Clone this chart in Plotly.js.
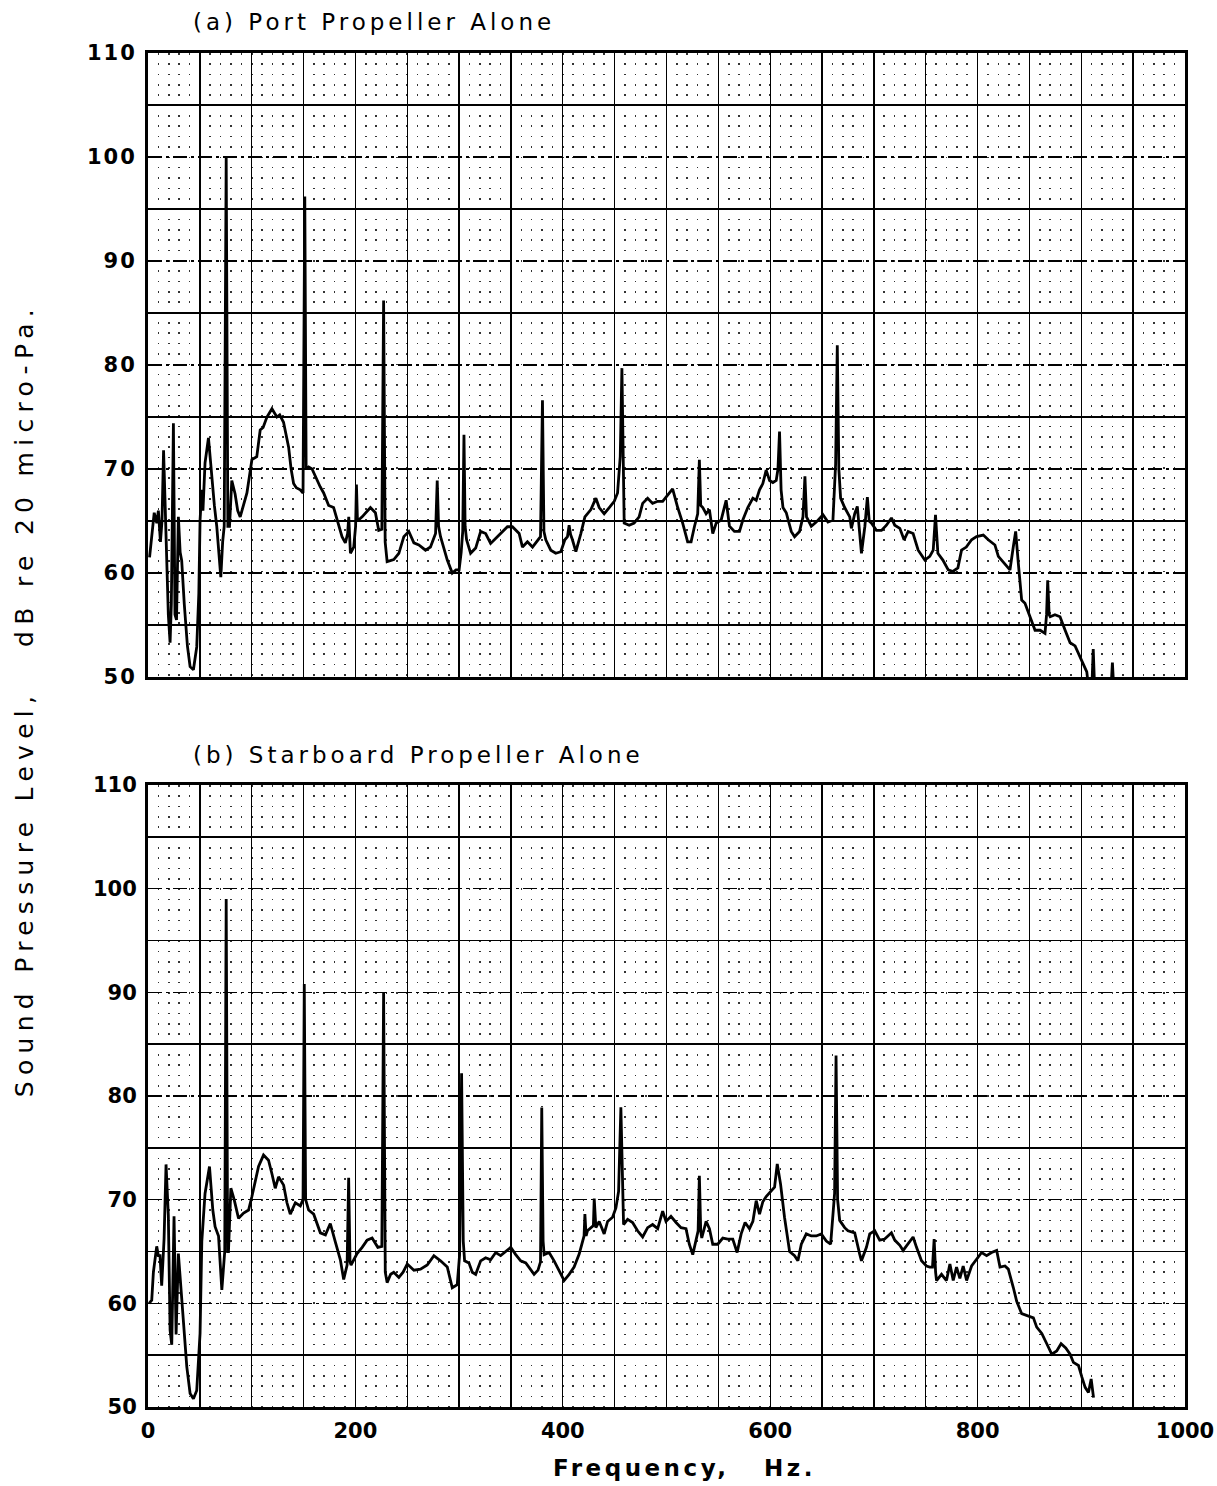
<!DOCTYPE html>
<html>
<head>
<meta charset="utf-8">
<script src="https://cdn.plot.ly/plotly-3.0.1.min.js"></script>
<style>
html, body { margin: 0; padding: 0; background: #ffffff; }
#chart { width: 1217px; height: 1486px; }
g.annotation[data-index="0"] text, g.annotation[data-index="1"] text { letter-spacing: 4px; }
g.annotation[data-index="2"] text { letter-spacing: 6.3px; }
g.annotation[data-index="3"] text { letter-spacing: 3.5px; }
g.xtick text, g.ytick text { letter-spacing: 2px; }
</style>
</head>
<body>
<div id="chart"></div>
<script>
// ---- Panel (a): Port Propeller Alone ----
const freqA = [1.5,3.5,6,8.5,10,12,13.5,15,16.5,18,19.6,21.3,22.5,24.5,26,27.5,29.3,31,32.5,35,38,40.6,43.8,47,49,
  50.2,51.9,53,55,58.3,61.5,64,66.3,68,70.2,72,73.5,75.4,77,78.6,80.8,84,86.5,88.9,92,95.4,100.2,104.9,108.2,111,
  114.7,119.5,124.3,127,130.7,133,135.6,138,140.4,143,146.8,149.5,151.2,152.5,154.9,158.2,163,166,169.4,174.2,179,
  182.3,185,187.1,190.3,192.5,193.6,194.5,195.2,198.4,200.2,201,202,206.5,211.3,214.5,219.3,222.5,225.5,227.2,228.7,
  230.6,237,241.9,246.7,251.5,256.4,261.2,267.6,272.4,277.3,278.9,280.2,282.1,288.6,293.4,297,300,302,303.5,304.7,
  305.8,307.2,311.1,316,320.8,325.6,330.4,336.9,341.7,346.6,351.4,357.9,361.1,365.9,370.8,375.6,378.5,380.4,381.8,
  383.6,388.4,393.2,398.1,402,404.5,406.1,407.5,409.3,412.6,417.4,421.3,427.1,431.9,435.1,439.9,444.8,449.6,452.8,
  455.4,457,458,459.2,464,468.8,473.6,477,481.8,486.6,491.5,496.3,501.1,505.9,510.8,515.6,520.4,523.7,526.9,530.1,
  531.7,533,535,538.2,541.4,544.6,547.9,552.7,557.5,560.7,565.5,570.4,573.6,578.4,583.3,586.5,589.7,592.9,596.1,
  599.4,602.6,605.8,607.5,609,610.5,612.3,615.5,617.1,620.3,623.5,628.3,631.6,633.5,635,639.6,644.4,650.9,655.7,
  660.5,663.1,664.7,666.2,667.9,671.8,676.7,678.3,681.5,684,686.3,688,691.3,693.7,695.5,697.7,702.4,707.3,712.1,
  716.9,720.1,725,729.1,733,737.8,742.7,749.1,753.9,757.2,759.4,761.7,766.5,771.7,776.2,781,784.5,789.1,794.2,799,
  805.5,810.3,816.7,820,824.8,831.2,834.4,836.7,839.3,842.5,845.7,850.6,855.4,860.3,865,866.5,867.6,869,870,874.6,
  879.5,884.4,889.2,894,898.9,903,905.3,907,910,911.5,913,928.5,930,931.5];
const splA = [61.5,63.5,65.8,64.8,66,63,65,71.8,66,61,56,53.3,57,74.4,56,55.5,65.4,62,61.2,57,53,51,50.7,52.9,58,
  65.1,68,66,70.6,73,68.9,66.5,64.5,62,59.6,63,64.5,100,64.5,64.5,68.9,67.6,66,65.4,66.5,67.7,70.9,71.2,73.75,74,
  75,75.8,75,75.2,74.5,73.4,72.1,70,68.6,68.2,68,67.7,96.2,70,70.2,70,68.9,68.3,67.7,66.5,66.3,
  65.1,64.3,63.5,62.9,63.8,65.4,63,61.9,62.5,64.5,68.5,65,65.4,65.9,66.3,65.8,64.1,64.2,86.2,63,
  61.1,61.3,61.9,63.5,64,62.9,62.7,62.2,62.5,63.8,68.9,64.5,63.5,61.25,60,60.3,60.3,62,64,73.3,
  64.5,63.2,61.9,62.4,64,63.8,62.85,63.5,64,64.45,64.45,63.8,62.5,63,62.5,63.2,63.5,76.6,64,
  63.2,62.2,61.9,62.05,63.2,63.5,64.6,63.7,63.2,62.05,63.8,65.4,66.1,67.2,66.3,65.7,66.3,66.9,67.7,
  71.2,79.7,70,64.8,64.6,64.8,65.4,66.7,67.2,66.7,66.9,66.9,67.5,68.1,66.3,64.8,63,63,64.45,65.7,
  70.9,66.5,66.3,65.7,66.1,63.8,64.8,65.1,67,64.5,64,64,65.1,66.3,67.2,67,68,68.6,69.9,
  68.9,68.7,68.9,70,73.6,68,66.3,65.8,65.1,64,63.5,64,65.4,69.3,65.4,64.5,64.9,65.6,64.9,
  65.1,70.5,81.9,70,67.2,66.3,65.4,64.3,65.7,66.4,63.8,61.9,64.5,67.3,65,64.8,64.1,64.1,64.6,
  65.3,64.6,64.3,63.2,64,63.8,62.2,61.25,61.6,62.2,65.6,61.9,61.25,60.3,60.15,60.5,62.2,62.5,63.2,63.5,
  63.65,63.2,62.7,61.6,61,60.3,62.5,64,60.9,57.4,57.1,55.8,54.5,54.5,54.2,56,59.3,56,55.8,56,
  55.8,54.5,53.3,53,52,51,50.5,49,48.5,52.7,48.5,48.5,51.4,48.5];

// ---- Panel (b): Starboard Propeller Alone ----
const freqB = [1,3.6,5.2,7,8.4,10,11.6,13.2,15.5,17.4,18.5,19.6,21.3,22.9,25.1,27.1,29.3,32.5,35,37.4,40.6,43.8,47,
  50.2,51.9,55,59.3,62.5,64.7,68,71.2,72.8,74,75.4,76.8,77.6,79.9,83.1,87.3,92.2,97,100.2,103.4,106.6,111.4,116.2,
  119.5,122.7,125.9,130.8,134,137.2,142.1,146.9,149.5,150.7,152,154.9,159.8,166.2,171.1,175.8,180.7,185.5,188.7,192,
  193.5,194.8,195.8,201.6,206.5,211.3,216.1,221.6,225.5,227.2,228.8,230.6,234,237,241.9,246,250,256.4,262.8,269.3,
  275.7,282.1,288.6,293.4,298.2,300.5,302.4,304,305.3,309.5,312.7,316,320.8,325.6,330.4,335.3,340.1,345,349.8,354.6,
  359.4,364.3,367.5,372.3,376.1,378.5,379.7,381,382,386.8,391.6,396.5,401.3,406.1,410.9,415.8,419,420.5,421.3,422.5,
  423.8,427.1,429.5,430.3,431.3,431.9,435.1,439.9,443.2,448,451.2,453.8,456,457.5,458.6,462.5,467.3,472.1,477,481.8,
  486.6,491.5,496.3,499.5,504.3,509.2,514,518.8,522,525.3,528.5,530.5,531.7,533,534,538.2,541.4,544.6,549.4,554.3,
  559.1,563.9,568.1,572,575.8,580,583.3,586.5,589.7,592.9,596.1,601,604.2,606.8,610,613.8,618.7,623.5,626.7,630,
  634.8,639.6,644.4,649.3,654.1,658.3,662.1,663.5,665,667,671.8,675,681.5,686.3,688,692.8,696,700.8,705.6,710.4,
  716.9,720.1,725,728.2,733,737.8,741.1,745.9,750.7,753.9,756.5,758.1,759.5,760.4,765.2,770,773.3,776.5,779.7,782.9,
  786.1,789.4,794.2,799,803.9,808.7,813.5,818.4,821.6,826.4,829.6,834.5,837.7,842.5,849,853.8,857,861.9,866.7,871.5,
  876.3,880.5,885,889.2,892.4,897.3,900.5,903.7,906.9,909.5,911.8];
const splB = [60,60.3,63,64.5,65.5,64.6,64.6,61.7,66.2,73.4,71,68.5,57.4,56,68.4,57,64.8,60.3,57,53.9,51.3,50.8,51.6,
  57.1,66,70.6,73.2,69,67.4,66.5,61.3,64,65,99,65,65,71.1,70,68.2,68.7,69,70.3,71.9,73.2,74.3,73.8,
  72.5,71.1,72.2,71.4,69.7,68.6,69.7,69.4,70,90.8,70,69,68.6,66.8,66.6,67.7,65.9,64.2,62.3,63.7,
  72.1,64,63.7,64.8,65.4,66.1,66.3,65.4,65.5,90,63,62,62.8,63,62.5,63,63.8,63.2,63.3,63.7,
  64.6,64.1,63.5,61.5,61.8,64.7,82.2,66,64.1,63.9,63,62.8,64.1,64.4,64.2,64.9,64.6,65,65.4,64.7,
  64.1,63.9,63.5,62.8,63.2,64,78.9,66,64.7,64.9,64.1,63.2,62.2,62.8,63.5,64.75,66,66.5,68.6,66.5,
  67,67.3,67.5,70.1,67.5,67.3,67.9,66.7,67.9,68.3,69.2,70.8,78.9,70,67.6,68.1,67.8,67,66.4,67.3,
  67.6,67.2,68.9,67.9,68.4,67.8,67.3,67.2,65.7,64.7,66.3,67,72.3,67,66.3,67.9,67.2,65.7,65.7,66.3,
  66.2,66.2,64.9,66.7,67.8,67.2,67.9,69.9,68.6,69.8,70.3,70.9,71.2,73.45,71.5,68.3,65,64.6,64.1,65.7,
  66.7,66.5,66.5,66.7,66,65.7,70.6,83.9,70,68,67.3,67,66.8,64.75,64.1,65.4,66.7,67,66.1,66.2,
  66.8,66.1,65.6,65.1,65.7,66.4,65.4,64.1,63.6,63.5,63.5,66.2,63,62.2,62.8,62.2,63.8,62.2,63.5,62.4,
  63.6,62.2,63.6,64.3,64.9,64.6,64.9,65.1,63.5,63.6,63.3,61.5,60.2,59,58.8,58.6,57.7,57.1,56.1,55.1,
  55.4,56.1,55.7,55.1,54.3,54,52.9,51.9,51.4,52.7,50.9];

// ---- Axis ticks and grid positions ----
const freqGrid = [0,50,100,150,200,250,300,350,400,450,500,550,600,650,700,750,800,850,900,950,1000];
const freqGridText = ['0','','','','200','','','','400','','','','600','','','','800','','','','1000'];
const splTicks = [50,60,70,80,90,100,110];
const splTickText = ['50','60','70','80','90','100','110'];
const splHalfGrid = [55,65,75,85,95,105];

const titleA = '(a) Port Propeller Alone';
const titleB = '(b) Starboard Propeller Alone';
const yTitle = 'Sound Pressure Level,\u00A0\u00A0 dB re 20 micro-Pa.';
const xTitle = 'Frequency,\u00A0\u00A0 Hz.';

const tickFont = {family: 'DejaVu Sans, sans-serif', size: 21, color: '#000', weight: 'bold'};

function xAxis(showLabels, anchor) {
  return {
    anchor: anchor, domain: [0, 1], range: [0, 1000],
    tickmode: 'array', tickvals: freqGrid, ticktext: freqGridText,
    showticklabels: showLabels, ticks: '', ticklabelstandoff: 3,
    tickfont: tickFont,
    showgrid: true, gridcolor: '#000', gridwidth: 1.4,
    minor: {tickmode: 'linear', tick0: 0, dtick: 10, showgrid: true, ticks: '',
            gridcolor: '#333', gridwidth: 1.6, griddash: '1.6px,8.75px'},
    zeroline: false, showline: true, mirror: true, linecolor: '#000', linewidth: 3
  };
}
function yAxis(domain, anchor) {
  return {
    anchor: anchor, domain: domain, range: [50, 110],
    tickmode: 'array', tickvals: splTicks, ticktext: splTickText,
    ticks: '', ticklabelstandoff: 4, tickfont: tickFont,
    showgrid: true, gridcolor: '#000', gridwidth: 1.3, griddash: '14px,4px,3px,4px',
    minor: {tickmode: 'array', tickvals: splHalfGrid, showgrid: true, ticks: '',
            gridcolor: '#000', gridwidth: 1.4, griddash: 'solid'},
    zeroline: false, showline: true, mirror: true, linecolor: '#000', linewidth: 3
  };
}

const traces = [
  {x: freqA, y: splA, xaxis: 'x', yaxis: 'y', type: 'scatter', mode: 'lines',
   line: {color: '#000', width: 2.8}, hoverinfo: 'x+y', name: 'Port'},
  {x: freqB, y: splB, xaxis: 'x2', yaxis: 'y2', type: 'scatter', mode: 'lines',
   line: {color: '#000', width: 2.8}, hoverinfo: 'x+y', name: 'Starboard'}
];

const textFont = {family: 'DejaVu Sans, sans-serif', size: 23, color: '#000'};

const layout = {
  width: 1217, height: 1486,
  paper_bgcolor: '#ffffff', plot_bgcolor: '#ffffff',
  showlegend: false,
  margin: {l: 148, r: 32, t: 53, b: 79, pad: 0},
  xaxis: xAxis(false, 'y'),
  yaxis: yAxis([0.5391, 1], 'x'),
  xaxis2: xAxis(true, 'y2'),
  yaxis2: yAxis([0, 0.4594], 'x2'),
  annotations: [
    {text: titleA, xref: 'paper', yref: 'paper', x: 0.2179, y: 1.0229,
     xanchor: 'center', yanchor: 'middle', showarrow: false, font: textFont},
    {text: titleB, xref: 'paper', yref: 'paper', x: 0.2613, y: 0.4815,
     xanchor: 'center', yanchor: 'middle', showarrow: false, font: textFont},
    {text: yTitle, xref: 'paper', yref: 'paper', x: -0.1186, y: 0.5222,
     xanchor: 'center', yanchor: 'middle', textangle: -90, showarrow: false,
     font: {family: 'DejaVu Sans, sans-serif', size: 25, color: '#000'}},
    {text: xTitle, xref: 'paper', yref: 'paper', x: 0.5178, y: -0.0451,
     xanchor: 'center', yanchor: 'middle', showarrow: false,
     font: {family: 'DejaVu Sans, sans-serif', size: 23, color: '#000', weight: 'bold'}}
  ]
};

Plotly.newPlot('chart', traces, layout, {staticPlot: true, displayModeBar: false});
</script>
</body>
</html>
